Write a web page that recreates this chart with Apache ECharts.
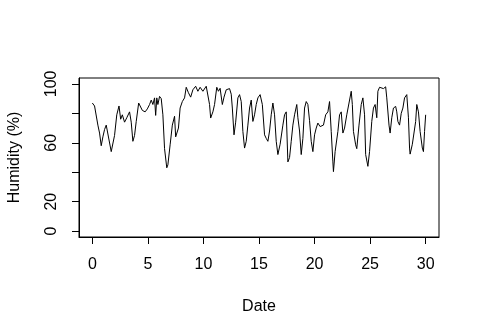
<!DOCTYPE html>
<html>
<head>
<meta charset="utf-8">
<script src="https://cdn.jsdelivr.net/npm/echarts@6/dist/echarts.min.js"></script>
<style>
  html, body { margin: 0; padding: 0; background: #fff; }
  #main { width: 480px; height: 335px; }
</style>
</head>
<body>
<div id="main"></div>
<script>
// days since start of record
const date = [
  0, 0.05, 0.1, 0.2, 0.5, 0.65, 0.8, 0.95, 1.1, 1.25,
  1.35, 1.7, 1.8, 2.0, 2.2, 2.4, 2.55, 2.7, 2.9, 3.1,
  3.35, 3.5, 3.65, 3.8, 3.95, 4.17, 4.3, 4.5, 4.75, 4.95,
  5.15, 5.3, 5.45, 5.6, 5.7, 5.8, 5.9, 6.05, 6.2, 6.35,
  6.5, 6.7, 6.8, 7.0, 7.2, 7.4, 7.5, 7.6, 7.75, 7.9,
  8.1, 8.3, 8.45, 8.65, 8.85, 9.05, 9.3, 9.5, 9.7, 9.95,
  10.25, 10.4, 10.55, 10.65, 10.85, 11.0, 11.2, 11.35, 11.5, 11.7,
  11.85, 12.05, 12.2, 12.35, 12.5, 12.6, 12.75, 12.9, 13.1, 13.25,
  13.4, 13.55, 13.7, 13.85, 14.0, 14.15, 14.3, 14.45, 14.6, 14.75,
  14.9, 15.1, 15.3, 15.5, 15.65, 15.8, 15.95, 16.1, 16.25, 16.4,
  16.55, 16.7, 16.9, 17.15, 17.3, 17.45, 17.6, 17.75, 17.9, 18.05,
  18.2, 18.4, 18.5, 18.65, 18.8, 18.95, 19.1, 19.25, 19.4, 19.55,
  19.7, 19.85, 20.0, 20.15, 20.3, 20.5, 20.65, 20.8, 21.0, 21.2,
  21.35, 21.5, 21.65, 21.7, 21.85, 22.1, 22.25, 22.4, 22.55, 22.7,
  22.9, 23.1, 23.3, 23.4, 23.5, 23.7, 23.8, 24.0, 24.2, 24.35,
  24.5, 24.6, 24.8, 24.95, 25.15, 25.3, 25.45, 25.6, 25.7, 25.85,
  26.0, 26.2, 26.4, 26.5, 26.7, 26.8, 26.95, 27.1, 27.3, 27.4,
  27.5, 27.65, 27.8, 27.95, 28.1, 28.3, 28.45, 28.55, 28.6, 28.8,
  29.1, 29.2, 29.35, 29.5, 29.7, 29.8, 29.9, 30.0
];
const humidity = [
  87, 87, 87, 85, 72, 66.6, 58, 64, 69, 72,
  68, 54, 55, 65, 79, 85, 76, 79, 74, 77,
  81, 74, 61, 65, 74.5, 87, 86, 82, 81, 83,
  86, 89, 86, 90.5, 78.6, 90.5, 86, 91.5, 90, 79,
  56, 43, 45, 58.6, 72, 78, 64, 63, 70, 83.6,
  88, 90.5, 97.7, 94, 91, 96, 98.4, 95, 97.7, 95,
  98.4, 98.4, 86, 76.8, 81, 86, 97.7, 95, 97, 86,
  91, 96, 95, 96.8, 93, 83.6, 65.4, 74, 90.5, 92.7,
  88, 67.7, 56.4, 61, 72, 83.6, 89, 74.5, 79, 86,
  90.5, 92.7, 86, 65.4, 63, 61, 68, 79, 87, 79,
  61, 52, 59, 72, 79, 81, 47, 50, 61, 72,
  79, 86, 77, 68, 52, 63, 83.6, 88, 86, 75,
  61, 54, 65.4, 70, 73.4, 71, 71, 72, 79, 81,
  88, 67.7, 47, 40.4, 54, 67.7, 79, 81, 66.6, 70,
  79, 87, 95, 86, 67.7, 58.6, 56, 72, 86, 90.5,
  79, 52, 44, 54, 74.5, 83.6, 86, 77, 95, 97.7,
  96.8, 96.8, 98, 90.5, 72, 66.6, 77, 83.6, 84.7, 81,
  74.5, 72, 80, 83.6, 90.5, 92.7, 77, 56.4, 52.3, 59,
  74.5, 86, 81, 67.7, 56.4, 54, 67.7, 79
];

const xTicks = [0, 5, 10, 15, 20, 25, 30];
const yTicks = [0, 20, 40, 60, 80, 100];
const yLabels = [0, 20, 60, 100];   // 40 and 80 are dropped, as in the original

const points = date.map((d, i) => [d, humidity[i]]);

const chart = echarts.init(document.getElementById('main'));
const font = 'Liberation Sans, Arial, sans-serif';

chart.setOption({
  animation: false,
  backgroundColor: '#fff',
  grid: {
    left: 79, top: 78, width: 360, height: 159,
    show: true, borderColor: '#000', borderWidth: 1,
    outerBoundsMode: 'none'
  },
  xAxis: {
    type: 'value',
    min: -1.2, max: 31.2,
    name: 'Date',
    nameLocation: 'middle',
    nameGap: 62,
    nameTextStyle: { color: '#000', fontSize: 16, fontFamily: font },
    axisLine: { show: true, onZero: false, lineStyle: { color: '#000', width: 1 } },
    axisTick: { show: true, inside: false, length: 7, customValues: xTicks, lineStyle: { color: '#000' } },
    axisLabel: { customValues: xTicks, margin: 20, color: '#000', fontSize: 16, fontFamily: font },
    splitLine: { show: false }
  },
  yAxis: {
    type: 'value',
    min: -4, max: 104,
    name: 'Humidity (%)',
    nameLocation: 'middle',
    nameGap: 56,
    nameTextStyle: { color: '#000', fontSize: 16, fontFamily: font },
    axisLine: { show: true, onZero: false, lineStyle: { color: '#000', width: 1 } },
    axisTick: { show: true, inside: false, length: 7, customValues: yTicks, lineStyle: { color: '#000' } },
    axisLabel: { customValues: yLabels, rotate: 90, margin: 19, color: '#000', fontSize: 16, fontFamily: font },
    splitLine: { show: false }
  },
  series: [{
    type: 'line',
    data: points,
    showSymbol: false,
    lineStyle: { color: '#000', width: 1 },
    silent: true
  }]
});
</script>
</body>
</html>
